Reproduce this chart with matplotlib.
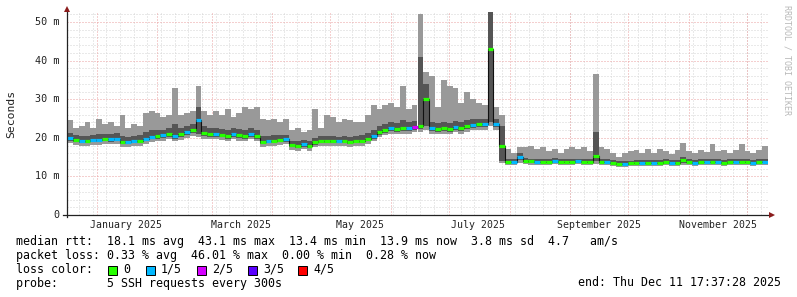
import datetime as dt
import numpy as np
import matplotlib
matplotlib.use("Agg")
import matplotlib.pyplot as plt
import matplotlib.dates as mdates
from matplotlib.lines import Line2D
from matplotlib.patches import Rectangle

W, H = 797, 297
MONO = "DejaVu Sans Mono"

# 3-day bins, 120 of them, ending Thu Dec 11 17:37:28 2025
end = dt.datetime(2025, 12, 11, 17, 37, 28)
bin_days = 3
n_bins = 120

# median rtt per bin (ms)
median = [
    20.0, 19.5, 19.3, 19.2, 19.5, 19.5, 19.7, 19.6, 19.8, 19.0,
    19.0, 19.2, 19.3, 19.8, 20.3, 20.5, 20.6, 21.0, 20.5, 21.0,
    21.5, 22.0, 24.5, 21.2, 21.0, 21.0, 20.8, 20.5, 21.0, 20.7,
    20.5, 21.0, 20.5, 19.0, 19.2, 19.3, 19.4, 19.6, 18.2, 18.0,
    18.3, 18.0, 18.8, 19.3, 19.3, 19.3, 19.2, 19.2, 19.0, 19.2,
    19.3, 19.8, 20.5, 21.5, 22.0, 22.5, 22.3, 22.5, 22.5, 22.8,
    23.0, 30.0, 22.5, 22.3, 22.5, 22.3, 22.8, 22.5, 23.0, 23.3,
    23.5, 23.5, 43.0, 23.5, 18.0, 13.8, 13.7, 15.0, 14.0, 13.9,
    13.8, 13.7, 13.8, 14.0, 13.8, 13.7, 13.8, 13.9, 13.7, 13.8,
    15.3, 13.8, 13.8, 13.6, 13.3, 13.3, 13.4, 13.5, 13.5, 13.6,
    13.6, 13.5, 13.7, 13.5, 13.6, 14.2, 13.8, 13.6, 13.7, 13.8,
    13.7, 13.8, 13.6, 13.7, 13.8, 13.8, 13.7, 13.6, 13.7, 13.7,
]
# slowest ping per bin (top of light smoke)
ping_max = [
    24.5, 22.5, 23.0, 24.0, 22.5, 25.0, 23.5, 24.0, 23.0, 26.0,
    22.5, 23.5, 23.0, 26.5, 27.0, 26.5, 25.5, 26.0, 33.0, 26.0,
    26.5, 27.0, 33.5, 27.0, 26.0, 27.0, 26.0, 27.5, 25.5, 26.5,
    28.0, 27.5, 28.0, 25.0, 24.5, 25.0, 24.0, 25.0, 22.0, 22.5,
    21.5, 22.0, 27.5, 22.5, 26.0, 25.5, 24.0, 25.0, 24.5, 24.0,
    24.0, 26.0, 28.5, 27.5, 28.5, 29.0, 28.0, 33.5, 27.5, 28.5,
    52.0, 37.0, 36.0, 28.0, 35.0, 33.5, 33.0, 29.0, 32.0, 30.0,
    29.0, 28.5, 53.0, 28.0, 26.0, 17.0, 16.0, 17.5, 17.5, 18.0,
    17.0, 17.5, 16.5, 17.0, 16.0, 17.0, 17.5, 17.0, 17.5, 16.5,
    36.5, 17.5, 17.0, 16.0, 15.0, 16.0, 16.5, 16.8, 16.0, 17.0,
    16.0, 17.0, 16.5, 15.8, 16.8, 18.6, 16.5, 16.0, 16.8, 16.2,
    18.4, 16.5, 16.8, 16.0, 16.8, 18.5, 16.5, 16.0, 16.8, 17.8,
]
# 4th ping (top of dark smoke)
ping_4 = [
    21.2, 20.8, 20.5, 20.5, 20.8, 21.0, 21.0, 21.0, 21.2, 20.5,
    20.3, 20.5, 20.6, 21.5, 22.0, 22.0, 22.0, 22.5, 23.5, 22.5,
    23.0, 23.5, 28.0, 23.0, 22.5, 22.5, 22.3, 22.0, 22.5, 22.2,
    22.0, 22.5, 22.0, 20.5, 20.5, 20.6, 20.7, 20.8, 19.3, 19.2,
    19.4, 19.2, 20.0, 20.5, 20.5, 20.5, 20.3, 20.4, 20.2, 20.4,
    20.6, 21.3, 22.0, 23.0, 23.5, 24.0, 23.8, 24.5, 24.0, 24.3,
    41.0, 34.0, 24.0, 23.8, 24.0, 23.8, 24.3, 24.0, 24.5, 24.8,
    25.0, 25.0, 52.5, 25.0, 23.0, 14.5, 14.4, 16.0, 14.8, 14.6,
    14.5, 14.4, 14.5, 14.8, 14.5, 14.4, 14.5, 14.6, 14.4, 14.5,
    21.5, 14.5, 14.5, 14.3, 14.0, 14.0, 14.1, 14.2, 14.2, 14.3,
    14.3, 14.2, 14.4, 14.2, 14.3, 15.0, 14.5, 14.3, 14.4, 14.5,
    14.4, 14.5, 14.3, 14.4, 14.5, 14.5, 14.4, 14.3, 14.4, 14.4,
]
# 2nd ping (bottom of dark smoke)
ping_2 = [
    19.3, 18.9, 18.7, 18.6, 18.9, 18.9, 19.1, 19.0, 19.2, 18.4,
    18.4, 18.6, 18.7, 19.2, 19.6, 19.8, 19.9, 20.3, 19.8, 20.3,
    20.8, 21.2, 21.0, 20.5, 20.3, 20.3, 20.1, 19.8, 20.3, 20.0,
    19.8, 20.3, 19.8, 18.4, 18.6, 18.7, 18.8, 19.0, 17.6, 17.4,
    17.7, 17.4, 18.2, 18.7, 18.7, 18.7, 18.6, 18.6, 18.4, 18.6,
    18.7, 19.2, 19.8, 20.8, 21.3, 21.8, 21.6, 21.8, 21.8, 22.1,
    22.2, 23.0, 21.8, 21.6, 21.8, 21.6, 22.1, 21.8, 22.3, 22.6,
    22.8, 22.8, 24.0, 22.8, 14.0, 13.5, 13.4, 14.2, 13.7, 13.6,
    13.5, 13.4, 13.5, 13.7, 13.5, 13.4, 13.5, 13.6, 13.4, 13.5,
    14.0, 13.5, 13.5, 13.3, 13.0, 13.0, 13.1, 13.2, 13.2, 13.3,
    13.3, 13.2, 13.4, 13.2, 13.3, 13.6, 13.5, 13.3, 13.4, 13.5,
    13.4, 13.5, 13.3, 13.4, 13.5, 13.5, 13.4, 13.3, 13.4, 13.4,
]
# fastest ping per bin (bottom of light smoke)
ping_min = [
    18.6, 18.2, 18.0, 17.9, 18.2, 18.2, 18.4, 18.3, 18.5, 17.7,
    17.7, 17.9, 18.0, 18.5, 18.9, 19.1, 19.2, 19.6, 19.1, 19.5,
    20.0, 20.5, 20.2, 19.8, 19.6, 19.6, 19.4, 19.1, 19.6, 19.3,
    19.1, 19.6, 19.1, 17.7, 17.9, 18.0, 18.1, 18.3, 16.9, 16.7,
    17.0, 16.7, 17.5, 18.0, 18.0, 18.0, 17.9, 17.9, 17.7, 17.9,
    18.0, 18.5, 19.1, 20.1, 20.6, 21.1, 20.9, 21.1, 21.1, 21.4,
    21.5, 22.0, 21.1, 20.9, 21.1, 20.9, 21.4, 21.1, 21.6, 21.9,
    22.1, 22.1, 23.0, 22.1, 13.5, 13.0, 12.9, 13.4, 13.1, 13.0,
    12.9, 12.9, 13.0, 13.2, 13.0, 12.9, 13.0, 13.1, 12.9, 13.0,
    13.3, 13.0, 13.0, 12.8, 12.5, 12.5, 12.6, 12.7, 12.7, 12.8,
    12.8, 12.7, 12.9, 12.7, 12.8, 13.0, 13.0, 12.8, 12.9, 13.0,
    12.9, 13.0, 12.8, 12.9, 13.0, 13.0, 12.9, 12.8, 12.9, 12.9,
]
# lost pings out of 5 per bin
loss = [
    1, 0, 1, 0, 1, 1, 0, 1, 1, 0,
    1, 1, 0, 1, 1, 0, 1, 0, 1, 0,
    1, 0, 1, 0, 0, 1, 0, 0, 1, 0,
    0, 1, 0, 0, 1, 0, 0, 1, 0, 0,
    1, 0, 0, 0, 0, 0, 1, 0, 0, 0,
    0, 0, 1, 0, 0, 1, 0, 0, 1, 2,
    0, 0, 1, 0, 0, 0, 1, 0, 0, 1,
    0, 1, 0, 1, 0, 0, 1, 1, 0, 0,
    1, 0, 0, 1, 0, 0, 0, 1, 0, 0,
    0, 0, 1, 0, 0, 1, 0, 0, 1, 0,
    1, 0, 0, 1, 0, 0, 0, 1, 0, 1,
    0, 1, 0, 0, 1, 0, 0, 1, 0, 1,
]

loss_labels = ["0", "1/5", "2/5", "3/5", "4/5"]
loss_colors = ["#26ff00", "#00b8ff", "#d400ff", "#5a00ff", "#ff0000"]

y_ticks = [0, 10, 20, 30, 40, 50]
y_labels = ["0", "10 m", "20 m", "30 m", "40 m", "50 m"]
x_labels = ["January 2025", "March 2025", "May 2025", "July 2025",
            "September 2025", "November 2025"]
x_label_months = [(2025, 1), (2025, 3), (2025, 5), (2025, 7), (2025, 9), (2025, 11)]

stats_rtt = "median rtt:  18.1 ms avg  43.1 ms max  13.4 ms min  13.9 ms now  3.8 ms sd  4.7   am/s"
stats_loss = "packet loss: 0.33 % avg  46.01 % max  0.00 % min  0.28 % now"
probe_txt = "probe:       5 SSH requests every 300s"
end_txt = "end: Thu Dec 11 17:37:28 2025"


def fx(px):
    return px / W


def fy(py):
    return 1 - py / H


# ============================================
# figure + axes (pixel layout like rrdtool)
# ============================================
fig = plt.figure(figsize=(W / 100, H / 100), dpi=100)
fig.patch.set_facecolor("white")
L, R, T, B = 67, 768, 12, 215
ax = fig.add_axes([fx(L), fy(B), (R - L) / W, (B - T) / H])
ax.set_facecolor("white")

t0 = mdates.date2num(end - dt.timedelta(days=bin_days * n_bins))
t1 = mdates.date2num(end)
edges = t0 + np.arange(n_bins + 1) * bin_days
ymax = 52.6
ax.set_xlim(t0, t1)
ax.set_ylim(0, ymax)

# grid: minor grey dotted, major red dotted
dots = (0, (1, 2))
for v in np.arange(0, ymax, 2):
    if v % 10:
        ax.axhline(v, color="#d4d4d4", lw=0.72, ls=dots, zorder=0)
for v in y_ticks[1:]:
    ax.axhline(v, color="#eaa0a0", lw=0.72, ls=dots, zorder=0.1)

week = mdates.date2num(dt.datetime(2024, 12, 16))
while week < t1:
    if week > t0:
        ax.axvline(week, color="#d4d4d4", lw=0.72, ls=dots, zorder=0)
    week += 7
month_starts = []
y, m = 2025, 1
while True:
    d = mdates.date2num(dt.datetime(y, m, 1))
    if d > t1:
        break
    month_starts.append(d)
    m += 1
    if m > 12:
        y, m = y + 1, 1
for d in month_starts:
    ax.axvline(d, color="#eaa0a0", lw=0.72, ls=dots, zorder=0.1)

# smoke
lo = np.array(ping_min)
hi = np.array(ping_max)
p2 = np.array(ping_2)
p4 = np.array(ping_4)
med = np.array(median)
ax.bar(edges[:-1], hi - lo, bottom=lo, width=bin_days, align="edge",
       color="#999999", linewidth=0, zorder=2)
ax.bar(edges[:-1], p4 - p2, bottom=p2, width=bin_days, align="edge",
       color="#555555", linewidth=0, zorder=3)

# median: thin black step + loss coloured segments
ax.step(edges, np.append(med, med[-1]), where="post", color="#111111",
        lw=0.8, zorder=4)
ax.hlines(med, edges[:-1], edges[1:], colors=[loss_colors[k] for k in loss],
          lw=2.3, zorder=5)

for s in ax.spines.values():
    s.set_visible(False)
ax.set_xticks([])
ax.set_yticks([])

# axis lines + arrows
fig.add_artist(Line2D([fx(L), fx(L)], [fy(B + 2), fy(9)], color="#222222", lw=0.9))
fig.add_artist(Line2D([fx(L - 4), fx(772)], [fy(B), fy(B)], color="#222222", lw=0.9))
fig.add_artist(Line2D([fx(L)], [fy(9)], marker="^", ms=4.5, color="#8b1c1c", mew=0))
fig.add_artist(Line2D([fx(772)], [fy(B)], marker=">", ms=4.5, color="#8b1c1c", mew=0))

# tick labels
for v, lab in zip(y_ticks, y_labels):
    fig.text(fx(60), fy(B - v * (B - T) / ymax), lab, ha="right", va="center",
             family=MONO, fontsize=7.3, color="#222222")
for (yy, mm), lab in zip(x_label_months, x_labels):
    xd = mdates.date2num(dt.datetime(yy, mm, 16))
    px = L + (xd - t0) / (t1 - t0) * (R - L)
    fig.text(fx(px), fy(224.5), lab, ha="center", va="center",
             family=MONO, fontsize=7.1, color="#222222")

fig.text(fx(11), fy(114), "Seconds", rotation=90, ha="center", va="center",
         family=MONO, fontsize=8.2, color="#222222")
fig.text(fx(787), fy(5), "RRDTOOL / TOBI OETIKER", rotation=-90, ha="center",
         va="top", family=MONO, fontsize=6.0, color="#b8b8b8")

# legend block
fs = 8.4
fig.text(fx(16), fy(241.5), stats_rtt, ha="left", va="center", family=MONO, fontsize=fs)
fig.text(fx(16), fy(255.5), stats_loss, ha="left", va="center", family=MONO, fontsize=fs)
fig.text(fx(16), fy(269.5), "loss color:", ha="left", va="center", family=MONO, fontsize=fs)
fig.text(fx(16), fy(283), probe_txt, ha="left", va="center", family=MONO, fontsize=fs)
fig.text(fx(781), fy(283), end_txt, ha="right", va="center", family=MONO, fontsize=fs)

box_x = [108, 146, 197, 248, 298]
for bx, lab, col in zip(box_x, loss_labels, loss_colors):
    fig.add_artist(Rectangle((fx(bx), fy(274.5)), 9 / W, 9 / H, facecolor=col,
                             edgecolor="black", lw=0.7))
    fig.text(fx(bx + 15), fy(269.5), lab, ha="left", va="center", family=MONO, fontsize=fs)

fig.savefig("out.png", dpi=100)
plt.close(fig)
